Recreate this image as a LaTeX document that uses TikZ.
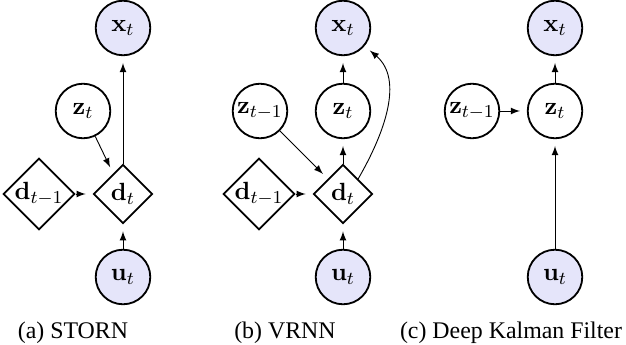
\documentclass[tikz,border=0pt]{standalone}
\usepackage[no-math]{fontspec}
\setmainfont{Liberation Serif}
\usetikzlibrary{shapes.geometric}
\definecolor{obsfill}{RGB}{229,229,250}

\begin{document}
\begin{tikzpicture}[x=0.44pt, y=-0.44pt,
  latent/.style={draw, circle, thick, minimum size=24pt, inner sep=0pt, font=\fontsize{11}{13}\selectfont},
  obs/.style={latent, fill=obsfill},
  det/.style={draw, diamond, thick, minimum size=26pt, inner sep=0pt, font=\fontsize{11}{13}\selectfont},
  arr/.style={-latex, shorten >=3pt},
  subcap/.style={font=\fontsize{10.5}{12}\selectfont}]
  \useasboundingbox (0,0) rectangle (626,345);
  % (a) STORN
  \node[obs] (xa) at (123,28) {$\mathbf{x}_t$};
  \node[latent] (za) at (83,111) {$\mathbf{z}_t$};
  \node[det] (dpa) at (39,194) {$\mathbf{d}_{t-1}$};
  \node[det] (da) at (123,194) {$\mathbf{d}_t$};
  \node[obs] (ua) at (123,277) {$\mathbf{u}_t$};
  \node[subcap] (capa) at (73,333) {(a) STORN};
  \draw[arr] (dpa) -- (da);
  \draw[arr] (za) -- (da);
  \draw[arr] (ua) -- (da);
  \draw[arr] (da) -- (xa);
  % (b) VRNN
  \node[obs] (xb) at (343,28) {$\mathbf{x}_t$};
  \node[latent] (zb) at (343,111) {$\mathbf{z}_t$};
  \node[latent] (zpb) at (260,111) {$\mathbf{z}_{t-1}$};
  \node[det] (dpb) at (259,194) {$\mathbf{d}_{t-1}$};
  \node[det] (db) at (343,194) {$\mathbf{d}_t$};
  \node[obs] (ub) at (343,277) {$\mathbf{u}_t$};
  \node[subcap] (capb) at (285,333) {(b) VRNN};
  \draw[arr] (dpb) -- (db);
  \draw[arr] (zpb) -- (db);
  \draw[arr] (ub) -- (db);
  \draw[arr] (db) -- (zb);
  \draw[arr] (zb) -- (xb);
  \draw[arr] (db.north east) to[out=60, in=-40] (xb);
  % (c) Deep Kalman Filter
  \node[obs] (xc) at (555,28) {$\mathbf{x}_t$};
  \node[latent] (zc) at (555,111) {$\mathbf{z}_t$};
  \node[latent] (zpc) at (472,111) {$\mathbf{z}_{t-1}$};
  \node[obs] (uc) at (555,277) {$\mathbf{u}_t$};
  \node[subcap] (capc) at (511,333) {(c) Deep Kalman Filter};
  \draw[arr] (zpc) -- (zc);
  \draw[arr] (uc) -- (zc);
  \draw[arr] (zc) -- (xc);
\end{tikzpicture}
\end{document}
